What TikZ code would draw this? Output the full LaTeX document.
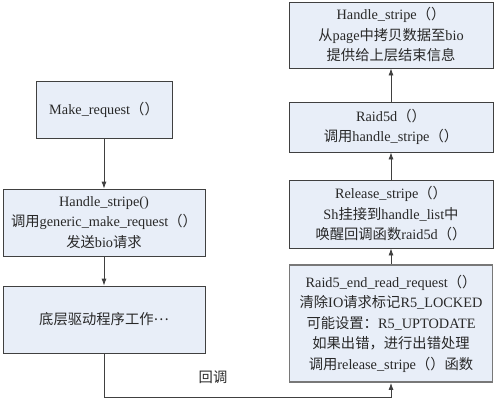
\documentclass[tikz,border=0pt]{standalone}
\usepackage{fontspec}
\setmainfont{Liberation Serif}
\newfontfamily\cjk{Noto Sans CJK SC}
\usetikzlibrary{arrows.meta}
\newcommand{\zh}[1]{{\cjk #1}}
\definecolor{boxfill}{RGB}{232,238,248}
\definecolor{boxline}{RGB}{64,64,64}
\definecolor{txt}{RGB}{40,40,40}
\tikzset{
  box/.style={draw=boxline, line width=0.8pt, fill=boxfill, rectangle, inner sep=0pt,
    align=center, text=txt, font=\fontsize{14.3}{20.5}\selectfont},
  thickbox/.style={box, draw={rgb,255:red,120;green,120;blue,120}, line width=1.8pt},
  arr/.style={draw=boxline, line width=0.8pt, -{Latex[length=7pt,width=5pt]}},
  lbl/.style={text=txt, font=\fontsize{14.3}{17}\selectfont, inner sep=0pt}
}
\begin{document}
\begin{tikzpicture}[x=1pt,y=-1pt]
\useasboundingbox (0,0) rectangle (496,410);
\node[box, minimum width=136pt, minimum height=57pt] (mk) at (104,109.5) {Make\_request\zh{（）}};
\node[box, minimum width=202pt, minimum height=67pt] (hs) at (104,222.5) {Handle\_stripe()\\\zh{调用}generic\_make\_request\zh{（）}\\\zh{发送}bio\zh{请求}};
\node[box, minimum width=202pt, minimum height=67pt] (dc) at (104,319.5) {\zh{底层驱动程序工作}\raisebox{0.3em}{\zh{…}}};
\node[box, minimum width=204pt, minimum height=66pt] (r1) at (391,35) {Handle\_stripe\zh{（）}\\\zh{从}page\zh{中拷贝数据至}bio\\\zh{提供给上层结束信息}};
\node[box, minimum width=204pt, minimum height=50pt] (r2) at (391,127) {Raid5d\zh{（）}\\\zh{调用}handle\_stripe\zh{（）}};
\node[box, minimum width=204pt, minimum height=68pt] (r3) at (391,214) {Release\_stripe\zh{（）}\\Sh\zh{挂接到}handle\_list\zh{中}\\\zh{唤醒回调函数}raid5d\zh{（）}};
\node[thickbox, minimum width=203pt, minimum height=117pt] (r4) at (391,323.5) {Raid5\_end\_read\_request\zh{（）}\\\zh{清除}IO\zh{请求标记}R5\_LOCKED\\\zh{可能设置：}R5\_UPTODATE\\\zh{如果出错，进行出错处理}\\\zh{调用}release\_stripe\zh{（）函数}};
\node[lbl] (cb) at (213,377) {\zh{回调}};
\coordinate (fb) at (391,397);
\draw[arr] (mk) -- (hs);
\draw[arr] (hs) -- (dc);
\draw[arr] (dc.south) |- (fb) -- (r4.south);
\draw[arr] (r4) -- (r3);
\draw[arr] (r3) -- (r2);
\draw[arr] (r2) -- (r1);
\end{tikzpicture}
\end{document}
